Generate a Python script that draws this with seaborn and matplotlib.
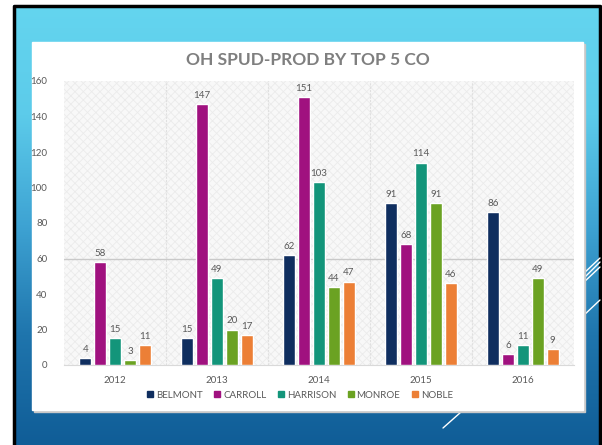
import numpy as np
import pandas as pd
import matplotlib.pyplot as plt
import seaborn as sns
from matplotlib.patches import Rectangle
from matplotlib.colors import LinearSegmentedColormap

# Données
annees = ["2012", "2013", "2014", "2015", "2016"]
comtes = ["BELMONT", "CARROLL", "HARRISON", "MONROE", "NOBLE"]
belmont = [4, 15, 62, 91, 86]
carroll = [58, 147, 151, 68, 6]
harrison = [15, 49, 103, 114, 11]
monroe = [3, 20, 44, 91, 49]
noble = [11, 17, 47, 46, 9]
couleurs = ["#0f2e5f", "#a0117f", "#13957a", "#6ba222", "#ec7f36"]

valeurs = [belmont, carroll, harrison, monroe, noble]
df = pd.DataFrame({
    "Annee": annees * len(comtes),
    "Comte": [c for c in comtes for _ in annees],
    "Puits": [v for serie in valeurs for v in serie],
})

sns.set_style("white")
plt.rcParams["font.family"] = ["Lato", "DejaVu Sans"]

fig = plt.figure(figsize=(6.02, 4.45), dpi=100)
fig.patch.set_facecolor("white")

# fond de la diapo
bg = fig.add_axes([0, 0, 1, 1])
bg.set_xlim(0, 602)
bg.set_ylim(445, 0)
bg.axis("off")
cmap = LinearSegmentedColormap.from_list("slide", ["#64d5ef", "#5ccbea", "#3ea3d3", "#1f75ad", "#105d97"])
grad = np.linspace(0, 1, 256).reshape(-1, 1)
bg.imshow(grad, cmap=cmap, extent=[13, 600, 445, 5], aspect="auto", zorder=0)
bg.plot([13.5, 13.5, 599.5, 599.5], [445, 6, 6, 445], color="black", lw=2.5, zorder=1)
for (x1, y1, x2, y2) in [(583, 274, 600, 258), (583, 279, 600, 262), (583, 283, 600, 267), (583, 316, 600, 300), (443, 428, 461, 412)]:
    bg.plot([x1, x2], [y1, y2], color="white", lw=1, zorder=1)
bg.add_patch(Rectangle((34, 44), 551, 368, color="#c8c8c8", zorder=1))
bg.add_patch(Rectangle((32, 42), 551, 368, color="white", zorder=2))

# graphique
plt.rcParams["hatch.linewidth"] = 0.6
ax = fig.add_axes([64 / 602, 80 / 445, 510 / 602, 284 / 445])
ax.set_facecolor("#f8f8f8")
ax.add_patch(Rectangle((0, 0), 1, 1, transform=ax.transAxes, facecolor="none",
                       edgecolor="#ebebeb", hatch="xxxx", lw=0, zorder=0))

sns.barplot(data=df, x="Annee", y="Puits", hue="Comte", palette=couleurs,
            width=0.73, gap=0.18, saturation=1, ax=ax, zorder=3)

for cont in ax.containers:
    ax.bar_label(cont, fontsize=7, color="#595959", padding=3)

ax.set_ylim(0, 160)
ax.set_xlim(-0.5, 4.5)
ax.set_yticks(range(0, 161, 20))
ax.axhline(60, color="#c9c9c9", lw=1, zorder=2)
for b in [0.5, 1.5, 2.5, 3.5]:
    ax.axvline(b, color="#e0e0e0", lw=0.8, ls=(0, (2, 1)), zorder=1)
ax.set_xlabel("")
ax.set_ylabel("")
ax.tick_params(axis="both", labelsize=7, colors="#595959", length=0)
ax.tick_params(axis="y", pad=12)
ax.tick_params(axis="x", pad=8)
for s in ["top", "right", "left"]:
    ax.spines[s].set_visible(False)
ax.spines["bottom"].set_color("#d9d9d9")

ax.get_legend().remove()
handles = [Rectangle((0, 0), 1, 1, color=c) for c in couleurs]
fig.legend(handles, comtes, loc="center", bbox_to_anchor=(300 / 602, 1 - 395 / 445), ncol=5,
           frameon=False, fontsize=7, labelcolor="#595959", handlelength=0.6, handleheight=0.6,
           handletextpad=0.3, columnspacing=1.2)

fig.text(308 / 602, 1 - 60 / 445, "OH SPUD-PROD BY TOP 5 CO", ha="center", va="center",
         fontsize=12.5, fontweight="bold", color="#7f7f7f")

plt.savefig("out.png", dpi=100)
